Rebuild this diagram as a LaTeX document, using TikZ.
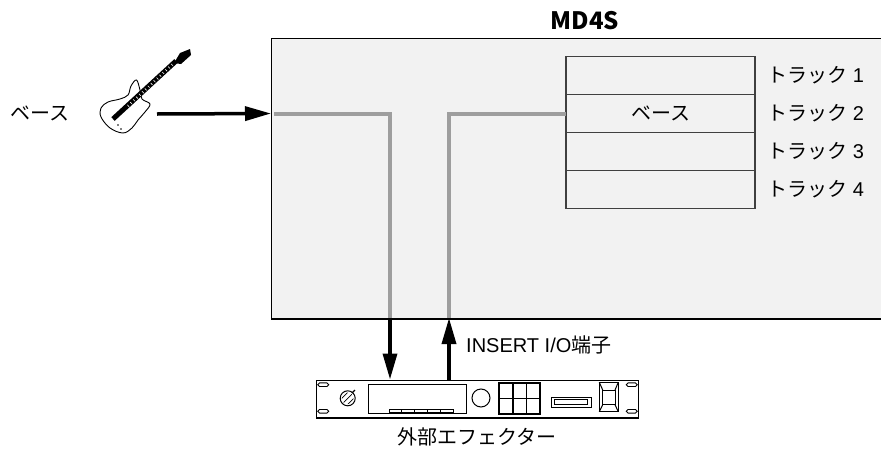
\documentclass[tikz,border=0pt]{standalone}
\usepackage{fontspec}
\setmainfont{Liberation Sans}
\newfontfamily\jp{Noto Sans CJK JP}
\usetikzlibrary{arrows.meta, positioning}
\definecolor{panelFondo}{HTML}{F2F2F2}
\definecolor{lineaGris}{HTML}{9E9E9E}
\definecolor{bordeOscuro}{HTML}{404040}

\begin{document}
\begin{tikzpicture}[x=1pt, y=-1pt,
        panel/.style={draw=black, fill=panelFondo, line width=1.2pt, minimum width=640pt,
            minimum height=280pt, anchor=north west, inner sep=0pt},
        pista/.style={draw=bordeOscuro, line width=1.2pt, minimum width=189pt, minimum height=38pt,
            inner sep=0pt, outer sep=0pt, font=\fontsize{20}{24}\selectfont},
        etiq/.style={font=\fontsize{20}{24}\selectfont, inner sep=0pt},
        senal/.style={lineaGris, line width=4pt},
        flecha/.style={-{Triangle[length=26pt, width=14pt]}, line width=3.5pt},
        equipo/.style={draw=black, line width=1pt}
    ]
        \useasboundingbox (0,0) rectangle (881,450);

        % grabadora y sus pistas
        \node[panel] (md) at (271,38) {};
        \node[font=\jp\bfseries\fontsize{24}{28}\selectfont] (titulo) at (585,21) {MD4S};
        \node[pista, anchor=north west] (p1) at (566,56.5) {};
        \node[pista, below=0pt of p1] (p2) {\jp ベース};
        \node[pista, below=0pt of p2] (p3) {};
        \node[pista, below=0pt of p3] (p4) {};
        \node[etiq, anchor=west] (e1) at ([xshift=12pt]p1.east) {{\jp トラック} 1};
        \node[etiq, anchor=west] (e2) at ([xshift=12pt]p2.east) {{\jp トラック} 2};
        \node[etiq, anchor=west] (e3) at ([xshift=12pt]p3.east) {{\jp トラック} 3};
        \node[etiq, anchor=west] (e4) at ([xshift=12pt]p4.east) {{\jp トラック} 4};

        % efecto externo
        \node[equipo, minimum width=322pt, minimum height=38pt, anchor=north west, inner sep=0pt]
            (rack) at (316,379.5) {};
        \node[etiq] (efecto) at (477,437) {\jp 外部エフェクター};
        \node[etiq, anchor=west] (insert) at (466,345) {INSERT I/O{\jp 端子}};

        % bajo
        \node[etiq] (bajo) at (40,113) {\jp ベース};
        \begin{scope}[line width=0.9pt]
            \draw[fill=white] plot[smooth cycle, tension=0.6] coordinates {(136.5,80) (140,90) (142,99)
                (150,104) (145,112) (138,120) (132,128) (123,133) (110,128) (101,117) (101,108)
                (108,102) (120,99) (128,95) (131,86)};
            \draw[line width=5pt] (113,119) -- (176,61);
            \draw[white, line width=2.6pt, dash pattern=on 0.6pt off 3.4pt] (128,106) -- (174,63);
            \fill (174,63) -- (180,53) -- (190,49) -- (191,55) -- (181,64) -- cycle;
            \fill (118,125) circle (0.9) (121,129) circle (0.9);
        \end{scope}

        % conexiones
        \coordinate (guitarra) at (157,114);
        \coordinate (entrada) at (md.west |- p2);
        \coordinate (envio) at (390,318);
        \coordinate (retorno) at (449,318);
        \draw[senal] ([xshift=3pt]entrada) -| (envio);
        \draw[senal] (retorno) |- (p2.west);
        \draw[flecha] (guitarra) -- (entrada);
        \draw[flecha] (envio) -- (envio |- rack.north);
        \draw[flecha] (retorno |- rack.north) -- (retorno);
        \draw[line width=1.2pt] (md.south west) -- (md.south east);

        % panel frontal
        \foreach \x in {323.3,631.7}
            \foreach \y in {384.7,411.3}
                \draw[line width=0.9pt, rounded corners=1.8pt] (\x-5.5,\y-1.8) rectangle (\x+5.5,\y+1.8);
        \draw[line width=1pt] (347.7,398.3) circle (7.5);
        \begin{scope}
            \clip (347.7,398.3) circle (5.8);
            \foreach \d in {-6,-3,0,3,6}
                \draw[line width=0.7pt] (340+\d,406+\d) -- (356+\d,390+\d);
        \end{scope}
        \draw[line width=1.2pt] (352,393) -- (355,390);
        \draw[line width=1pt] (368,384) rectangle (466,413);
        \foreach \i in {0,...,4}
            \draw[line width=0.8pt] (389+12.8*\i,409.5) rectangle ++(12.8,3);
        \draw[line width=1pt] (481,398) circle (9);
        \draw[line width=1.6pt] (499,383) rectangle (540,414);
        \draw[line width=1.6pt] (512.7,383) -- (512.7,414) (526.3,383) -- (526.3,414) (499,398.5) -- (540,398.5);
        \draw[line width=1pt] (551,397) rectangle (591,407);
        \draw[line width=1.6pt] (554.5,399.5) rectangle (587.5,404.5);
        \draw[line width=1pt] (599.3,382.3) rectangle (618.3,411.7);
        \draw[line width=1pt] (602.7,390) rectangle (615,404.7);
        \draw[line width=1pt] (599.3,382.3) -- (602.7,390) (618.3,382.3) -- (615,390)
            (599.3,411.7) -- (602.7,404.7) (618.3,411.7) -- (615,404.7);
        \draw[line width=2pt] (316,418) -- (638,418);
    \end{tikzpicture}
\end{document}
